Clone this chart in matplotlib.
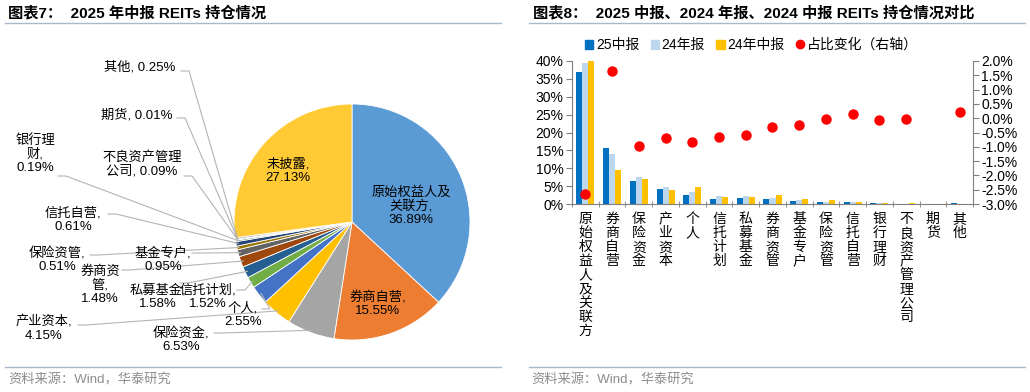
import matplotlib
matplotlib.use("Agg")
import matplotlib.pyplot as plt
from matplotlib.lines import Line2D
from matplotlib.patches import Patch
from matplotlib.ticker import FuncFormatter, MultipleLocator
import numpy as np

plt.rcParams["font.family"] = ["Liberation Sans", "Noto Sans CJK SC"]
plt.rcParams["axes.unicode_minus"] = False

W, H = 1030, 392

# ---- left: 2025 中报持仓 pie ----
pie_names = ["原始权益人及关联方", "券商自营", "保险资金", "产业资本", "个人", "信托计划",
             "私募基金", "券商资管", "基金专户", "保险资管", "信托自营", "银行理财",
             "不良资产管理公司", "期货", "其他", "未披露"]
pie_values = [36.89, 15.55, 6.53, 4.15, 2.55, 1.52, 1.58, 1.48, 0.95, 0.51, 0.61, 0.19,
              0.09, 0.01, 0.25, 27.13]
pie_colors = ["#5B9BD5", "#ED7D31", "#A5A5A5", "#FFC000", "#4472C4", "#70AD47", "#255E91",
              "#9E480E", "#636363", "#997300", "#264478", "#43682B", "#7CAFDD", "#F1975A",
              "#B7B7B7", "#FFCA33"]

# ---- right: 三期对比 ----
bar_cats = ["原始权益人及关联方", "券商自营", "保险资金", "产业资本", "个人", "信托计划",
            "私募基金", "券商资管", "基金专户", "保险资管", "信托自营", "银行理财",
            "不良资产管理公司", "期货", "其他"]
mid25 = [36.89, 15.55, 6.53, 4.15, 2.55, 1.52, 1.58, 1.48, 0.95, 0.51, 0.61, 0.19, 0.09, 0.01, 0.25]
ann24 = [39.53, 13.90, 7.49, 4.85, 3.38, 2.17, 2.17, 1.79, 1.20, 0.55, 0.48, 0.27, 0.13, 0.00, 0.05]
mid24 = [40.00, 9.50, 7.10, 3.90, 4.67, 2.05, 1.87, 2.60, 1.50, 1.00, 0.50, 0.40, 0.20, 0.00, 0.05]
chg = [-2.64, 1.66, -0.96, -0.70, -0.83, -0.65, -0.59, -0.31, -0.25, -0.04, 0.13, -0.08,
       -0.04, np.nan, 0.20]

# label layout for the pie: name -> (wrapped name, separator, x, y, leader start or None)
pie_labels = {
    "原始权益人及关联方": ("原始权益人及\n关联方", "\n", 411, 206, None),
    "券商自营": ("券商自营", "\n", 378, 304, None),
    "未披露": ("未披露", "\n", 288, 171, None),
    "其他": ("其他", " ", 140, 67, (181, 71)),
    "期货": ("期货", " ", 137, 115, (177, 118)),
    "银行理财": ("银行理\n财", "\n", 35, 154, (58, 176)),
    "不良资产管理公司": ("不良资产管理\n公司", " ", 142, 164, (184, 176)),
    "信托自营": ("信托自营", "\n", 73, 220, (108, 214)),
    "保险资管": ("保险资管", "\n", 57, 260, (90, 255)),
    "基金专户": ("基金专户", "\n", 163, 260, (192, 253)),
    "券商资管": ("券商资\n管", "\n", 100, 285, (122, 270)),
    "私募基金": ("私募基金", "\n", 158, 297, (180, 283)),
    "信托计划": ("信托计划", "\n", 208, 297, (237, 290)),
    "个人": ("个人", "\n", 243, 315, (262, 309)),
    "产业资本": ("产业资本", "\n", 44, 329, (78, 325)),
    "保险资金": ("保险资金", "\n", 181, 340, (214, 333)),
}

fig = plt.figure(figsize=(W / 100, H / 100), dpi=100)

# overlay in pixel coordinates for titles, rules and pie labels
ov = fig.add_axes([0, 0, 1, 1], zorder=5)
ov.set_xlim(0, W)
ov.set_ylim(H, 0)
ov.axis("off")
ov.patch.set_alpha(0)

rule = "#A7B9CD"
for x0, x1 in [(5, 501), (529, 1025)]:
    ov.plot([x0, x1], [23, 23], color=rule, lw=1)
    ov.plot([x0, x1], [367, 367], color=rule, lw=1)
ov.text(8, 13, "图表7：  2025 年中报 REITs 持仓情况", fontsize=11, fontweight="bold", va="center")
ov.text(533, 13, "图表8：  2025 中报、2024 年报、2024 中报 REITs 持仓情况对比", fontsize=11,
        fontweight="bold", va="center")
ov.text(8, 380, "资料来源：Wind，华泰研究", fontsize=9.5, color="#8C8C8C", va="center")
ov.text(531, 380, "资料来源：Wind，华泰研究", fontsize=9.5, color="#8C8C8C", va="center")

# pie
cx, cy, R = 352, 222, 118
axp = fig.add_axes([(cx - R) / W, (H - cy - R) / H, 2 * R / W, 2 * R / H])
axp.pie(pie_values, colors=pie_colors, startangle=90, counterclock=False, radius=1,
        wedgeprops=dict(edgecolor="white", linewidth=0.6))
axp.set_xlim(-1, 1)
axp.set_ylim(-1, 1)
axp.axis("off")

cum = np.cumsum([0] + pie_values[:-1])
total = sum(pie_values)
for name, v, c0 in zip(pie_names, pie_values, cum):
    wrapped, sep, tx, ty, lead = pie_labels[name]
    ov.text(tx, ty, f"{wrapped},{sep}{v:.2f}%", fontsize=9.5, ha="center", va="center",
            linespacing=1.12, zorder=6)
    if lead is not None:
        ang = np.deg2rad(90 - 360 * (c0 + v / 2) / total)
        ex, ey = cx + R * 0.98 * np.cos(ang), cy - R * 0.98 * np.sin(ang)
        lx, ly = lead
        ov.plot([lx, lx + 8, ex], [ly, ly, ey], color="#B4B4B4", lw=0.8, zorder=4)

# bars
ax = fig.add_axes([572 / W, (H - 204) / H, (973 - 572) / W, (204 - 61) / H])
x = np.arange(len(bar_cats))
bw = 0.225
ax.bar(x - bw, mid25, bw, color="#0070C0", label="25中报")
ax.bar(x, ann24, bw, color="#BDD7EE", label="24年报")
ax.bar(x + bw, mid24, bw, color="#FFC000", label="24年中报")
ax.set_xlim(-0.5, len(bar_cats) - 0.5)
ax.set_ylim(0, 40)
ax.yaxis.set_major_locator(MultipleLocator(5))
ax.yaxis.set_major_formatter(FuncFormatter(lambda v, p: f"{v:.0f}%"))
ax.set_xticks(x)
ax.set_xticklabels(["\n".join(n) for n in bar_cats], fontsize=10, linespacing=1.0, va="top")
ax.set_xticks(np.arange(-0.5, len(bar_cats)), minor=True)
ax.tick_params(axis="x", which="major", length=0, pad=6)
ax.tick_params(axis="x", which="minor", length=4, direction="inout", color="#7F7F7F")
ax.tick_params(axis="y", length=4, color="#7F7F7F", labelsize=10, pad=2)
for s in ["top", "right"]:
    ax.spines[s].set_visible(False)
for s in ["left", "bottom"]:
    ax.spines[s].set_color("#7F7F7F")

ax2 = ax.twinx()
ax2.plot(x, chg, "o", color="#FF0000", markersize=6.5, label="占比变化（右轴）")
ax2.set_ylim(-3, 2)
ax2.yaxis.set_major_locator(MultipleLocator(0.5))
ax2.yaxis.set_major_formatter(FuncFormatter(lambda v, p: f"{v:.1f}%"))
ax2.tick_params(axis="y", length=4, color="#7F7F7F", labelsize=10, pad=2)
for s in ["top", "left", "bottom"]:
    ax2.spines[s].set_visible(False)
ax2.spines["right"].set_color("#7F7F7F")

handles = [Patch(color="#0070C0"), Patch(color="#BDD7EE"), Patch(color="#FFC000"),
           Line2D([], [], marker="o", ls="none", color="#FF0000", markersize=6)]
fig.legend(handles, ["25中报", "24年报", "24年中报", "占比变化（右轴）"], loc="center left",
           bbox_to_anchor=(585 / W, 1 - 45 / H), ncol=4, frameon=False, fontsize=10,
           handlelength=0.6, handleheight=0.6, handletextpad=0.2, columnspacing=0.8,
           borderaxespad=0, borderpad=0)

fig.savefig("out.png", dpi=100)
